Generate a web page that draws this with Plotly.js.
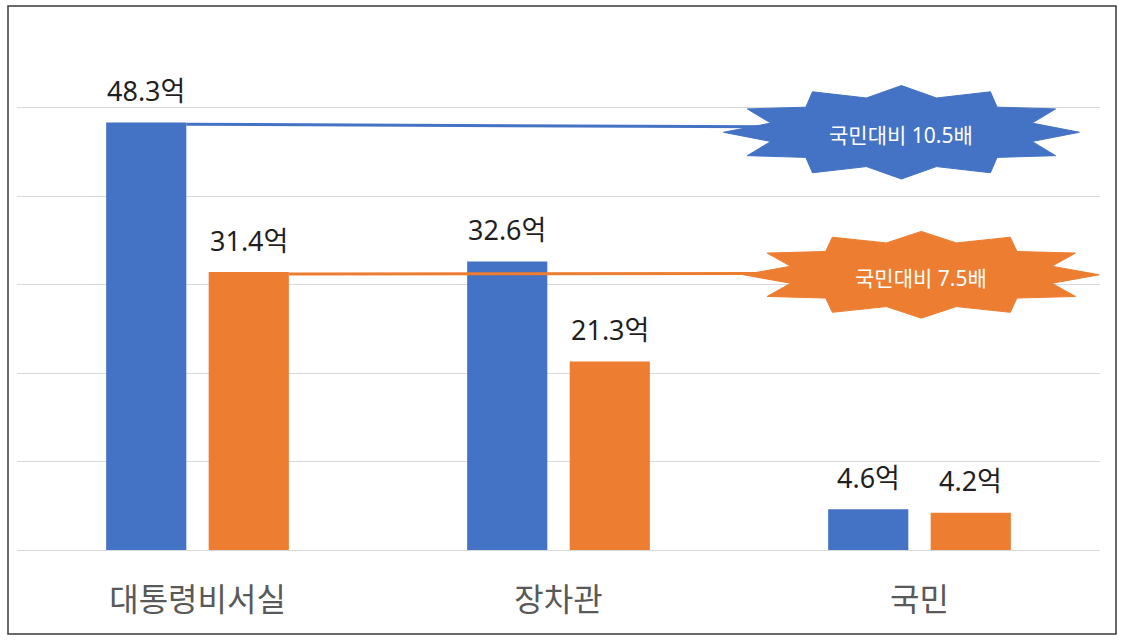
<!DOCTYPE html>
<html>
<head>
<meta charset="utf-8">
<script src="https://cdn.plot.ly/plotly-3.0.1.min.js"></script>
<style>
  html, body { margin: 0; padding: 0; background: #fff; }
  #chart { width: 1123px; height: 641px; }
</style>
</head>
<body>
<div id="chart"></div>
<script>
// --- data ---
const categories = ['대통령비서실', '장차관', '국민'];
const seriesNames = ['2020', '2021'];
const blueValues = [48.3, 32.6, 4.6];
const orangeValues = [31.4, 21.3, 4.2];
const unitSuffix = '억';
const ratioLabels = ['국민대비 10.5배', '국민대비 7.5배'];

// --- style ---
const BLUE = '#4472C4';
const ORANGE = '#ED7D31';
const FONT = '"Noto Sans", "Noto Sans CJK KR", sans-serif';
const W = 1123, H = 641;
const margin = { l: 17, r: 23, t: 18, b: 91, pad: 0 };
const bargap = 0.432, bargroupgap = 0.218;
const slot = (1 - bargap) / 2;            // width of one bar slot in category units
const barHalf = slot * (1 - bargroupgap) / 2;

// paper coords from figure pixels (for the outer frame)
const plotW = W - margin.l - margin.r, plotH = H - margin.t - margin.b;
const px = v => (v - margin.l) / plotW;
const py = v => (H - margin.b - v) / plotH;

// 12-point star path in data units
function starPath(cx, cy, rx, ry, inner) {
    let d = '';
    for (let k = 0; k < 24; k++) {
        const a = Math.PI / 2 - k * Math.PI / 12;
        const r = k % 2 === 0 ? 1 : inner;
        const x = cx + rx * r * Math.cos(a);
        const y = cy + ry * r * Math.sin(a);
        d += (k === 0 ? 'M' : 'L') + x.toFixed(4) + ',' + y.toFixed(4);
    }
    return d + 'Z';
}

// stars (callouts) — centre in data units, radii in data units
const stars = [
    { cx: 1.95, cy: 47.2, rx: 0.493, ry: 5.28, color: BLUE, text: ratioLabels[0], from: blueValues[0], x0: -slot / 2 + barHalf },
    { cx: 2.005, cy: 31.1, rx: 0.493, ry: 4.9, color: ORANGE, text: ratioLabels[1], from: orangeValues[0], x0: slot / 2 + barHalf }
];

const xIdx = categories.map((_, i) => i);

const traces = [
    { type: 'bar', name: seriesNames[0], x: xIdx, y: blueValues, marker: { color: BLUE }, hoverinfo: 'none' },
    { type: 'bar', name: seriesNames[1], x: xIdx, y: orangeValues, marker: { color: ORANGE }, hoverinfo: 'none' }
];

const annotations = [];
[blueValues, orangeValues].forEach((vals, s) => {
    vals.forEach((v, i) => {
        annotations.push({
            x: i + (s === 0 ? -slot / 2 : slot / 2), y: v, xref: 'x', yref: 'y',
            text: v.toFixed(1) + unitSuffix, showarrow: false,
            yanchor: 'middle', yshift: 32,
            font: { family: FONT, size: 27, color: '#1f1f1f' }
        });
    });
});

const shapes = [];
stars.forEach(st => {
    shapes.push({
        type: 'line', xref: 'x', yref: 'y',
        x0: st.x0, x1: st.cx, y0: st.from - 0.2, y1: st.cy + (st.from - st.cy) * 0.5,
        line: { color: st.color, width: 3 }
    });
});
stars.forEach(st => {
    shapes.push({
        type: 'path', xref: 'x', yref: 'y',
        path: starPath(st.cx, st.cy, st.rx, st.ry, 0.76),
        fillcolor: st.color, line: { color: st.color, width: 1 }
    });
    annotations.push({
        x: st.cx, y: st.cy, xref: 'x', yref: 'y', text: st.text, showarrow: false,
        yshift: -3,
        font: { family: FONT, size: 21, color: '#ffffff' }
    });
});
// outer frame
shapes.push({
    type: 'rect', xref: 'paper', yref: 'paper',
    x0: px(8), x1: px(1116), y0: py(634), y1: py(6),
    line: { color: '#3a3a3a', width: 1.5 }, fillcolor: 'rgba(0,0,0,0)'
});

const layout = {
    width: W, height: H, margin,
    paper_bgcolor: '#ffffff', plot_bgcolor: '#ffffff',
    barmode: 'group', bargap, bargroupgap,
    showlegend: false,
    xaxis: {
        range: [-0.5, 2.5], tickmode: 'array', tickvals: xIdx, ticktext: categories,
        showgrid: false, zeroline: false, showline: false, ticks: '',
        ticklabelstandoff: 28,
        tickfont: { family: FONT, size: 32, color: '#595959' }
    },
    yaxis: {
        range: [0, plotH / 8.85], dtick: 10, tick0: 0, showticklabels: false,
        showgrid: true, gridcolor: '#d9d9d9', gridwidth: 1,
        zeroline: true, zerolinecolor: '#d9d9d9', zerolinewidth: 1, ticks: ''
    },
    shapes, annotations
};

Plotly.newPlot('chart', traces, layout, { staticPlot: true });
</script>
</body>
</html>
